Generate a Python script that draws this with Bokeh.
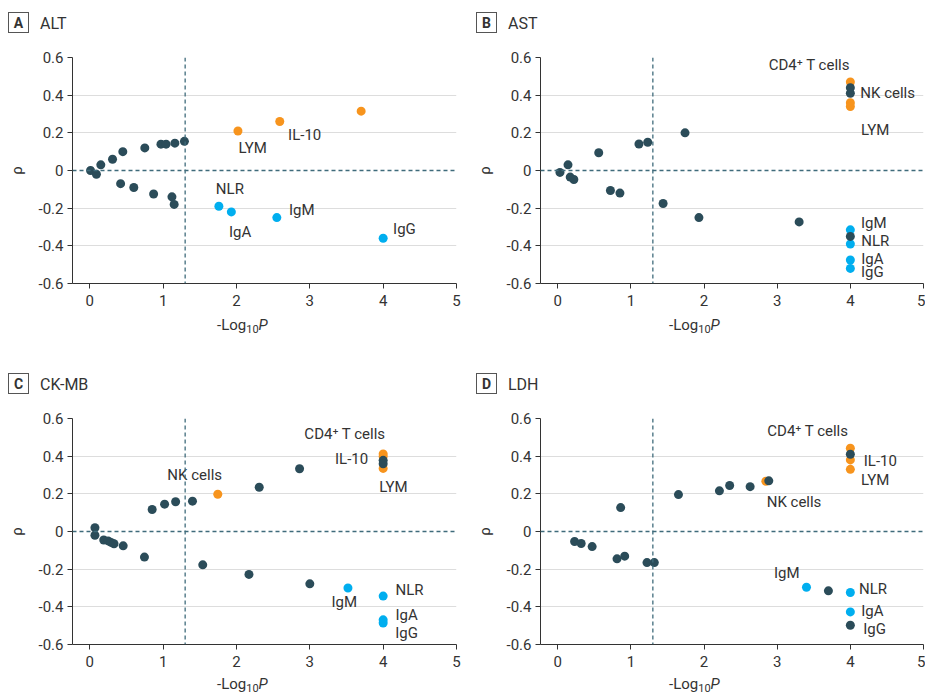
from bokeh.plotting import figure
from bokeh.layouts import column, row
from bokeh.models import Span, FixedTicker, Range1d, Div
from bokeh.core.properties import value
from bokeh.embed import file_html
from bokeh.resources import INLINE

# ---------------- data ----------------
YTICKS = [-0.6, -0.4, -0.2, 0, 0.2, 0.4, 0.6]
YTICK_LABELS = ["-0.6", "-0.4", "-0.2", "0", "0.2", "0.4", "0.6"]
XTICKS = [0, 1, 2, 3, 4, 5]

# A  ALT
alt_dark_x = [0.01, 0.09, 0.15, 0.31, 0.45, 0.75, 0.97, 1.04, 1.16, 1.29, 0.42, 0.60, 0.87, 1.12, 1.15]
alt_dark_y = [0.00, -0.02, 0.03, 0.06, 0.10, 0.12, 0.14, 0.14, 0.145, 0.155, -0.07, -0.09, -0.125, -0.14, -0.18]
alt_orange_x = [2.02, 2.59, 3.70]
alt_orange_y = [0.21, 0.26, 0.315]
alt_blue_x = [1.76, 1.93, 2.55, 4.00]
alt_blue_y = [-0.19, -0.22, -0.25, -0.36]
alt_labels = ["LYM", "IL-10", "NLR", "IgA", "IgM", "IgG"]
alt_label_x = [2.22, 2.93, 1.91, 2.05, 2.89, 4.29]
alt_label_y = [0.12, 0.19, -0.10, -0.325, -0.208, -0.313]

# B  AST
ast_dark_x = [0.03, 0.14, 0.17, 0.22, 0.56, 0.72, 0.85, 1.11, 1.23, 1.44, 1.74, 1.93, 3.30, 4.0, 4.0, 4.0]
ast_dark_y = [-0.01, 0.03, -0.035, -0.048, 0.094, -0.106, -0.12, 0.141, 0.15, -0.175, 0.20, -0.25, -0.273, 0.44, 0.41, -0.35]
ast_orange_x = [4.0, 4.0, 4.0]
ast_orange_y = [0.47, 0.36, 0.34]
ast_blue_x = [4.0, 4.0, 4.0, 4.0]
ast_blue_y = [-0.315, -0.39, -0.475, -0.52]
ast_labels = ["CD4\u207a T cells", "NK cells", "LYM", "IgM", "NLR", "IgA", "IgG"]
ast_label_x = [3.44, 4.51, 4.34, 4.32, 4.34, 4.30, 4.30]
ast_label_y = [0.559, 0.414, 0.214, -0.281, -0.372, -0.469, -0.54]

# C  CK-MB
ckmb_dark_x = [0.07, 0.07, 0.19, 0.25, 0.29, 0.33, 0.455, 0.745, 0.85, 1.02, 1.17, 1.40, 1.54, 2.17, 2.31, 2.86, 3.00, 4.0, 4.0]
ckmb_dark_y = [0.02, -0.02, -0.045, -0.05, -0.058, -0.065, -0.076, -0.136, 0.117, 0.145, 0.158, 0.161, -0.177, -0.228, 0.235, 0.333, -0.278, 0.378, 0.36]
ckmb_orange_x = [1.745, 4.0, 4.0, 4.0]
ckmb_orange_y = [0.198, 0.412, 0.398, 0.335]
ckmb_blue_x = [3.52, 4.0, 4.0, 4.0]
ckmb_blue_y = [-0.30, -0.343, -0.469, -0.486]
ckmb_labels = ["CD4\u207a T cells", "IL-10", "NK cells", "LYM", "IgM", "NLR", "IgA", "IgG"]
ckmb_label_x = [3.48, 3.57, 1.43, 4.14, 3.47, 4.36, 4.32, 4.32]
ckmb_label_y = [0.52, 0.386, 0.30, 0.235, -0.375, -0.308, -0.443, -0.54]

# D  LDH
ldh_dark_x = [0.23, 0.32, 0.47, 0.81, 0.86, 0.915, 1.22, 1.32, 1.65, 2.21, 2.35, 2.63, 2.885, 3.70, 4.0, 4.0]
ldh_dark_y = [-0.053, -0.064, -0.08, -0.145, 0.127, -0.131, -0.165, -0.165, 0.196, 0.216, 0.244, 0.238, 0.269, -0.315, 0.41, -0.498]
ldh_orange_x = [2.845, 4.0, 4.0, 4.0]
ldh_orange_y = [0.267, 0.442, 0.38, 0.33]
ldh_blue_x = [3.40, 4.0, 4.0]
ldh_blue_y = [-0.296, -0.324, -0.427]
ldh_labels = ["CD4\u207a T cells", "IL-10", "LYM", "NK cells", "IgM", "NLR", "IgA", "IgG"]
ldh_label_x = [3.42, 4.41, 4.34, 3.23, 3.13, 4.31, 4.30, 4.33]
ldh_label_y = [0.533, 0.372, 0.276, 0.156, -0.221, -0.303, -0.42, -0.52]

# ---------------- style ----------------
FONT = "Roboto"
TEXT = "#333333"
DARK = "#2b4c59"
ORANGE = "#f7941d"
BLUE = "#00aeef"
DASH = "#3f6b7b"
GRID = "#dddddd"
PT = 9
HDR_H = 48


def header(letter, name, width):
    html = (
        f"<div style='position:relative;width:{width}px;height:{HDR_H}px;background:white;'>"
        f"<span style='position:absolute;left:8px;top:12px;width:21px;height:21px;"
        f"border:1px solid #555555;font-family:{FONT};font-weight:bold;font-size:14px;"
        f"line-height:21px;text-align:center;color:{TEXT};'>{letter}</span>"
        f"<span style='position:absolute;left:40px;top:14px;font-family:{FONT};"
        f"font-size:16px;line-height:20px;color:{TEXT};'>{name}</span>"
        f"</div>"
    )
    return Div(text=html, width=width, height=HDR_H, margin=0)


def xtitle(width, height, left, top):
    html = (
        f"<div style='position:relative;width:{width}px;height:{height}px;background:white;'>"
        f"<span style='position:absolute;left:{left}px;top:{top}px;font-family:{FONT};"
        f"font-size:15px;line-height:18px;color:{TEXT};white-space:nowrap;'>"
        f"-Log<span style='font-size:11px;line-height:0;vertical-align:-3px;'>10</span>"
        f"<i>P</i></span>"
        f"</div>"
    )
    return Div(text=html, width=width, height=height, margin=0)


def panel(dx, dy, ox, oy, bx, by, labs, lx, ly, frame_w, b_right):
    p = figure(frame_width=frame_w, frame_height=226,
               min_border_left=72, min_border_right=b_right,
               min_border_top=9, min_border_bottom=30,
               x_range=Range1d(-0.236, 5), y_range=Range1d(-0.6, 0.6),
               output_backend="svg", toolbar_location=None, tools="")
    p.outline_line_color = None
    p.background_fill_color = "white"
    p.border_fill_color = "white"
    p.xgrid.visible = False
    p.ygrid.ticker = FixedTicker(ticks=[t for t in YTICKS if t != 0])
    p.ygrid.grid_line_color = GRID
    p.ygrid.grid_line_width = 1

    for ax in (p.xaxis[0], p.yaxis[0]):
        ax.axis_line_color = TEXT
        ax.axis_line_width = 1
        ax.major_tick_line_color = TEXT
        ax.major_tick_out = 5
        ax.major_tick_in = 0
        ax.minor_tick_line_color = None
        ax.major_label_text_font = FONT
        ax.major_label_text_font_size = "15px"
        ax.major_label_text_color = TEXT
        ax.axis_label_text_font = FONT
        ax.axis_label_text_font_size = "15px"
        ax.axis_label_text_font_style = "normal"
        ax.axis_label_text_color = TEXT
    p.xaxis.ticker = FixedTicker(ticks=XTICKS)
    p.xaxis.major_label_standoff = 6
    p.yaxis.ticker = FixedTicker(ticks=YTICKS)
    p.yaxis.major_label_overrides = {t: s for t, s in zip(YTICKS, YTICK_LABELS)}
    p.yaxis.major_label_standoff = 4
    p.yaxis.axis_label = "\u03c1"
    p.yaxis.axis_label_standoff = 10

    p.add_layout(Span(location=0, dimension="width", line_color=DASH,
                      line_dash="4 3", line_width=1.3))
    p.add_layout(Span(location=1.3, dimension="height", line_color=DASH,
                      line_dash="4 3", line_width=1.3))

    p.scatter(ox, oy, size=PT, color=ORANGE, line_color=None)
    p.scatter(bx, by, size=PT, color=BLUE, line_color=None)
    p.scatter(dx, dy, size=PT, color=DARK, line_color=None)

    p.text(x=lx, y=ly, text=labs, text_font=value(FONT), text_font_size="15px",
           text_color=TEXT, text_align="center", text_baseline="middle")
    return p


WL, WR = 468, 457
pa = panel(alt_dark_x, alt_dark_y, alt_orange_x, alt_orange_y, alt_blue_x, alt_blue_y,
           alt_labels, alt_label_x, alt_label_y, 384, 12)
pb = panel(ast_dark_x, ast_dark_y, ast_orange_x, ast_orange_y, ast_blue_x, ast_blue_y,
           ast_labels, ast_label_x, ast_label_y, 383, 2)
pc = panel(ckmb_dark_x, ckmb_dark_y, ckmb_orange_x, ckmb_orange_y, ckmb_blue_x, ckmb_blue_y,
           ckmb_labels, ckmb_label_x, ckmb_label_y, 384, 12)
pd = panel(ldh_dark_x, ldh_dark_y, ldh_orange_x, ldh_orange_y, ldh_blue_x, ldh_blue_y,
           ldh_labels, ldh_label_x, ldh_label_y, 383, 2)

layout = column(
    row(column(header("A", "ALT", WL), pa, xtitle(WL, 48, 217, 3)),
        column(header("B", "AST", WR), pb, xtitle(WR, 48, 201, 3))),
    row(column(header("C", "CK-MB", WL), pc, xtitle(WL, 24, 217, 1)),
        column(header("D", "LDH", WR), pd, xtitle(WR, 24, 201, 1))),
)
open("out.html", "w").write(file_html(layout, INLINE))
